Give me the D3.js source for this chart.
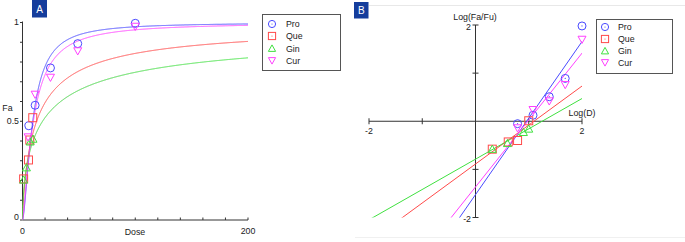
<!DOCTYPE html>
<html><head><meta charset="utf-8">
<script src="https://cdn.jsdelivr.net/npm/d3@7/dist/d3.min.js"></script>
<style>
html,body{margin:0;padding:0;background:#fff;}
svg{display:block;font-family:"Liberation Sans",Arial,sans-serif;}
</style></head>
<body>
<svg id="chart" width="685" height="242"></svg>
<script>
// ---------- data ----------
const seriesNames = ["Pro", "Que", "Gin", "Cur"];
// median-effect fit parameters (slope m, median dose Dm)
const fitM  = [1.59, 0.81, 0.63, 1.39];
const fitDm = [9.1, 12.5, 17.8, 9.6];
// Panel A: dose vs Fa points
const doseA = [
  [5.6, 11.2, 24.8, 49, 100],
  [1.0, 5.3, 6.5, 9.1],
  [1.0, 3.5, 6.8, 9.3],
  [5.0, 11.2, 24.8, 49, 100]
];
const faA = [
  [0.477, 0.581, 0.770, 0.893, 0.996],
  [0.208, 0.304, 0.405, 0.518],
  [0.203, 0.265, 0.396, 0.41],
  [0.42, 0.636, 0.722, 0.856, 0.98]
];
// Panel B: log(D) vs log(Fa/Fu) points
const logD_B = [
  [0.79, 1.08, 1.385, 1.685, 2.0],
  [0.315, 0.615, 0.79, 1.0],
  [0.315, 0.6, 0.9, 1.0],
  [0.79, 1.08, 1.385, 1.685, 2.0]
];
const logFaFu_B = [
  [-0.05, 0.125, 0.51, 0.89, 1.98],
  [-0.58, -0.43, -0.40, 0.01],
  [-0.58, -0.46, -0.23, -0.16],
  [-0.14, 0.24, 0.42, 0.76, 1.70]
];
const xTicksA = [0, 200];
const yTicksA = [0, 0.5, 1];
const ticksB = [-2, 2];

// ---------- styles ----------
const colors = ["#4a4aff", "#ff4a4a", "#40e040", "#ff40ff"];
const shapes = ["circle", "square", "triUp", "triDown"];
const fontSize = "8.8px";
const axisColor = "#333";

const svg = d3.select("#chart");

function marker(g, shape, x, y, s, color, dot) {
  let p;
  if (shape === "circle") {
    g.append("circle").attr("cx", x).attr("cy", y).attr("r", s)
      .attr("fill", "none").attr("stroke", color).attr("stroke-width", 1);
  } else if (shape === "square") {
    g.append("rect").attr("x", x - s).attr("y", y - s).attr("width", 2 * s).attr("height", 2 * s)
      .attr("fill", "none").attr("stroke", color).attr("stroke-width", 1);
  } else if (shape === "triUp") {
    p = `M${x},${y - s}L${x + s},${y + s * 0.8}L${x - s},${y + s * 0.8}Z`;
    g.append("path").attr("d", p).attr("fill", "none").attr("stroke", color).attr("stroke-width", 1);
  } else {
    p = `M${x},${y + s}L${x + s},${y - s * 0.8}L${x - s},${y - s * 0.8}Z`;
    g.append("path").attr("d", p).attr("fill", "none").attr("stroke", color).attr("stroke-width", 1);
  }
  if (dot) {
    g.append("circle").attr("cx", x).attr("cy", y).attr("r", 0.6).attr("fill", color);
  }
}

function text(x, y, t, anchor) {
  svg.append("text").attr("x", x).attr("y", y).attr("text-anchor", anchor || "middle")
    .attr("dominant-baseline", "central").attr("font-size", fontSize).attr("fill", "#222").text(t);
}

function panelLabel(x, y, w, h, t) {
  svg.append("rect").attr("x", x).attr("y", y).attr("width", w).attr("height", h).attr("fill", "#153d9c");
  svg.append("text").attr("x", x + w / 2).attr("y", y + h / 2 + 0.5).attr("text-anchor", "middle")
    .attr("dominant-baseline", "central").attr("font-size", "10px").attr("fill", "#fff").text(t);
}

function legend(x0, y0, w, h, mx, tx, rows) {
  const g = svg.append("g");
  g.append("rect").attr("x", x0).attr("y", y0).attr("width", w).attr("height", h)
    .attr("fill", "#fff").attr("stroke", "#555").attr("stroke-width", 1);
  seriesNames.forEach((n, i) => {
    marker(g, shapes[i], mx, rows[i], 3.6, colors[i], shapes[i] === "circle" || shapes[i] === "square");
    g.append("text").attr("x", tx).attr("y", rows[i]).attr("dominant-baseline", "central")
      .attr("font-size", fontSize).attr("fill", "#222").text(n);
  });
}

// faint panel frame lines
svg.append("line").attr("x1", 369).attr("x2", 685).attr("y1", 5.5).attr("y2", 5.5).attr("stroke", "#e8e8e8");
svg.append("line").attr("x1", 355).attr("x2", 685).attr("y1", 237.5).attr("y2", 237.5).attr("stroke", "#f0f0f0");

// ================= Panel A =================
const xA = d3.scaleLinear().domain([0, 200]).range([22.5, 248]);
const yA = d3.scaleLinear().domain([0, 1]).range([220, 22.5]);
const gA = svg.append("g");

// axes
gA.append("line").attr("x1", xA(0)).attr("x2", xA(0)).attr("y1", yA(1) - 1).attr("y2", yA(0)).attr("stroke", axisColor);
gA.append("line").attr("x1", xA(0)).attr("x2", xA(200)).attr("y1", yA(0)).attr("y2", yA(0)).attr("stroke", axisColor);
d3.range(0, 201, 20).forEach(v => {
  gA.append("line").attr("x1", xA(v)).attr("x2", xA(v)).attr("y1", yA(0)).attr("y2", yA(0) - 2.5).attr("stroke", axisColor);
});
d3.range(0, 11).forEach(k => {
  const v = k / 10;
  gA.append("line").attr("x1", xA(0) - 2.5).attr("x2", xA(0)).attr("y1", yA(v)).attr("y2", yA(v)).attr("stroke", axisColor);
});
xTicksA.forEach(v => text(xA(v), 231, String(v)));
yTicksA.forEach(v => text(19, yA(v) - (v === 0 ? 3 : 0.5), String(v), "end"));
text(135, 232, "Dose");
text(7.5, 108, "Fa");

// curves
const doseGrid = d3.range(0, 200.001, 0.05);
const lineA = d3.line().x(d => xA(d[0])).y(d => yA(d[1]));
seriesNames.forEach((n, i) => {
  const pts = doseGrid.map(d => [d, d === 0 ? 0 : 1 / (1 + Math.pow(fitDm[i] / d, fitM[i]))]);
  gA.append("path").attr("d", lineA(pts)).attr("fill", "none").attr("stroke", colors[i]).attr("stroke-width", 1);
});
seriesNames.forEach((n, i) => {
  doseA[i].forEach((d, j) => marker(gA, shapes[i], xA(d), yA(faA[i][j]), 4, colors[i], false));
});
legend(262.5, 14.5, 78, 56, 272, 286, [24, 36, 48.5, 60.5]);
panelLabel(32, 0, 15, 17.5, "A");

// ================= Panel B =================
const xB = d3.scaleLinear().domain([-2, 2]).range([369, 582]);
const yB = d3.scaleLinear().domain([-2, 2]).range([217.5, 25]);
const gB = svg.append("g");
svg.append("clipPath").attr("id", "clipB").append("rect")
  .attr("x", xB(-2)).attr("y", yB(2)).attr("width", xB(2) - xB(-2)).attr("height", yB(-2) - yB(2));

gB.append("line").attr("x1", xB(-2)).attr("x2", xB(2)).attr("y1", yB(0)).attr("y2", yB(0)).attr("stroke", axisColor);
gB.append("line").attr("x1", xB(0)).attr("x2", xB(0)).attr("y1", yB(2)).attr("y2", yB(-2)).attr("stroke", axisColor);
[-2, -1, 1, 2].forEach(v => {
  gB.append("line").attr("x1", xB(v)).attr("x2", xB(v)).attr("y1", yB(0) - 3).attr("y2", yB(0) + 3).attr("stroke", axisColor);
  gB.append("line").attr("x1", xB(0) - 3).attr("x2", xB(0) + 3).attr("y1", yB(v)).attr("y2", yB(v)).attr("stroke", axisColor);
});
ticksB.forEach(v => text(xB(v), 131, String(v)));
ticksB.forEach(v => text(471, yB(v) + 1.5, String(v), "end"));
text(475, 16.5, "Log(Fa/Fu)");
text(582, 113, "Log(D)");

const lineB = d3.line().x(d => xB(d[0])).y(d => yB(d[1]));
const gLines = gB.append("g").attr("clip-path", "url(#clipB)");
seriesNames.forEach((n, i) => {
  const lx = Math.log10(fitDm[i]);
  const pts = [[-3, fitM[i] * (-3 - lx)], [3, fitM[i] * (3 - lx)]];
  gLines.append("path").attr("d", lineB(pts)).attr("fill", "none").attr("stroke", colors[i]).attr("stroke-width", 1);
});
seriesNames.forEach((n, i) => {
  logD_B[i].forEach((x, j) => marker(gB, shapes[i], xB(x), yB(logFaFu_B[i][j]), 4, colors[i], shapes[i] === "circle"));
});
legend(596.5, 19.5, 76, 54, 605, 618, [27, 39, 51, 62.5]);
panelLabel(354, 2, 14.5, 16.5, "B");
</script>
</body></html>
